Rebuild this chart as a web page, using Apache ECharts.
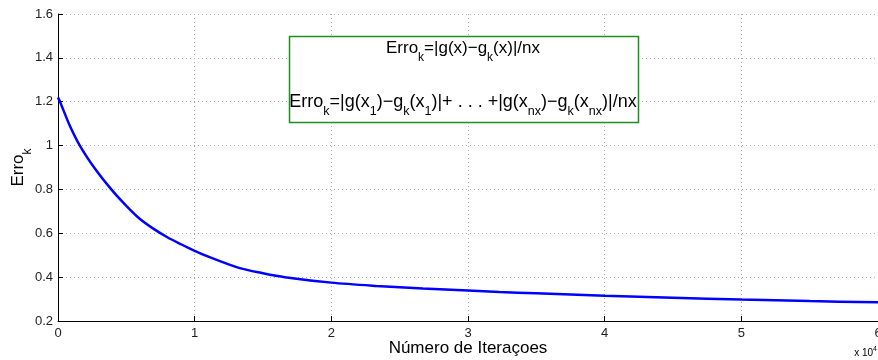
<!DOCTYPE html>
<html>
<head>
<meta charset="utf-8">
<script src="https://cdn.jsdelivr.net/npm/echarts@6/dist/echarts.min.js"></script>
<style>
  html, body { margin: 0; padding: 0; background: #fff; }
  #chart { width: 878px; height: 360px; }
</style>
</head>
<body>
<div id="chart"></div>
<script>
// iterations (raw count) and error
var iteracoes = [0, 150, 800, 1600, 2700, 3900, 5000, 6000, 7000, 8000, 9000, 10000, 11100,
  13300, 15000, 16600, 20000, 23300, 26700, 30000, 32300, 35000, 40000, 45000, 50000, 55000, 60000];
var erro = [1.22, 1.20, 1.10, 1.00, 0.895, 0.80, 0.725, 0.665, 0.62, 0.582, 0.55, 0.52, 0.491,
  0.441, 0.418, 0.40, 0.375, 0.36, 0.348, 0.339, 0.332, 0.326, 0.315, 0.306, 0.298, 0.291, 0.285];
var xTicks = [0, 1, 2, 3, 4, 5, 6];

var points = iteracoes.map(function (x, i) { return [x, erro[i]]; });

var font = 'Liberation Sans, Arial, sans-serif';
var sub = { fontSize: 12, fontFamily: font, color: '#000', verticalAlign: 'bottom', padding: [20, 0, 0, 0] };
var txt = { fontSize: 17, fontFamily: font, color: '#000', lineHeight: 20 };
var sub2 = { fontSize: 12.5, fontFamily: font, color: '#000', verticalAlign: 'bottom', padding: [20, 0, 0, 0] };
var txt2 = { fontSize: 18, fontFamily: font, color: '#000', lineHeight: 20 };

var chart = echarts.init(document.getElementById('chart'));
chart.setOption({
  animation: false,
  grid: { left: 58, right: 0, top: 14, bottom: 39, outerBoundsMode: 'none', containLabel: false },
  xAxis: {
    type: 'value',
    min: 0, max: 60000, interval: 10000,
    name: 'Número de Iteraçoes',
    nameLocation: 'middle',
    nameGap: 19,
    nameMoveOverlap: false,
    nameTextStyle: { fontSize: 17, fontFamily: font, color: '#000' },
    axisLine: { lineStyle: { color: '#000', width: 1 } },
    axisTick: { inside: true, length: 5, lineStyle: { color: '#000' } },
    axisLabel: {
      fontSize: 13, fontFamily: font, color: '#222', margin: 6,
      formatter: function (v) { return String(xTicks[Math.round(v / 10000)]); }
    },
    splitLine: { show: true, lineStyle: { color: '#aaa', type: [1, 3] } }
  },
  yAxis: {
    type: 'value',
    min: 0.2, max: 1.6, interval: 0.2,
    name: '{a|Erro}{b|k}',
    nameLocation: 'middle',
    nameGap: 24,
    nameMoveOverlap: false,
    nameTextStyle: {
      rich: {
        a: { fontSize: 17, fontFamily: font, color: '#000', lineHeight: 20 },
        b: { fontSize: 12, fontFamily: font, color: '#000', verticalAlign: 'bottom', padding: [20, 0, 0, 0] }
      }
    },
    axisLine: { show: true, lineStyle: { color: '#000', width: 1 } },
    axisTick: { show: true, inside: true, length: 5, lineStyle: { color: '#000' } },
    axisLabel: {
      fontSize: 13, fontFamily: font, color: '#222', margin: 5,
      formatter: function (v) { return String(parseFloat(v.toFixed(1))); }
    },
    splitLine: { show: true, lineStyle: { color: '#aaa', type: [1, 3] } }
  },
  series: [{
    type: 'line',
    data: points,
    smooth: 0.3,
    showSymbol: false,
    lineStyle: { color: '#0000ff', width: 2.5 }
  }],
  graphic: [
    {
      type: 'rect',
      shape: { x: 289.5, y: 36.5, width: 349, height: 86 },
      style: { fill: '#fff', stroke: '#1f8f1f', lineWidth: 1.5 },
      z: 10
    },
    {
      type: 'text', x: 463, y: 48, z: 11,
      style: {
        text: '{t|Erro}{s|k}{t|=|g(x)−g}{s|k}{t|(x)|/nx}',
        align: 'center', verticalAlign: 'middle',
        rich: { t: txt, s: sub }
      }
    },
    {
      type: 'text', x: 463, y: 102, z: 11,
      style: {
        text: '{t|Erro}{s|k}{t|=|g(x}{s|1}{t|)−g}{s|k}{t|(x}{s|1}{t|)|+ . . . +|g(x}{s|nx}{t|)−g}{s|k}{t|(x}{s|nx}{t|)|/nx}',
        align: 'center', verticalAlign: 'middle',
        rich: { t: txt2, s: sub2 }
      }
    },
    {
      type: 'text', right: 1, bottom: 2,
      style: {
        text: '{t|x 10}{p|4}',
        rich: {
          t: { fontSize: 10, fontFamily: font, color: '#222', lineHeight: 14 },
          p: { fontSize: 7, fontFamily: font, color: '#222', verticalAlign: 'top', padding: [0, 0, 6, 0] }
        }
      }
    }
  ]
});
</script>
</body>
</html>
